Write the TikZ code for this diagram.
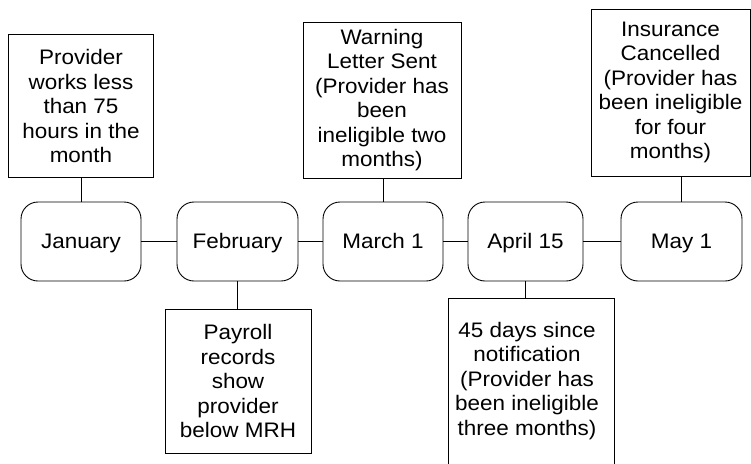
\documentclass[tikz,border=0pt]{standalone}
\usepackage{fontspec}
\setmainfont[FakeStretch=1.07]{Liberation Sans}
\begin{document}
\begin{tikzpicture}[x=1pt,y=-1pt,
  txt/.style={font=\fontsize{21}{24.5}\selectfont, align=center, inner sep=0pt},
  notebox/.style={txt, draw, line width=0.9pt},
  monthbox/.style={txt, draw, line width=0.9pt, rounded corners=17pt, minimum height=79pt, text height=14.5pt, text depth=0pt},
  link/.style={line width=0.8pt}
]
\useasboundingbox (0,0) rectangle (751,463);
\clip (0,0) rectangle (751,463);

% month nodes
\node[monthbox, minimum width=120pt] (jan) at (81,241.5) {January};
\node[monthbox, minimum width=121pt] (feb) at (237.5,241.5) {February};
\node[monthbox, minimum width=120pt] (mar) at (383,241.5) {March 1};
\node[monthbox, minimum width=115pt] (apr) at (525.5,241.5) {April 15};
\node[monthbox, minimum width=121pt] (may) at (681.5,241.5) {May 1};

% notes above
\node[notebox, minimum width=145pt, minimum height=143pt] (b1) at (81,106)
  {Provider\\works less\\than 75\\hours in the\\month};
\node[notebox, minimum width=158pt, minimum height=156pt] (b2) at (382,100)
  {Warning\\Letter Sent\\(Provider has\\been\\ineligible two\\months)};
\node[notebox, minimum width=159pt, minimum height=167pt] (b3) at (670.5,92.5)
  {Insurance\\Cancelled\\(Provider has\\been ineligible\\for four\\months)};

% notes below
\node[notebox, minimum width=146pt, minimum height=144pt] (b4) at (238,381)
  {Payroll\\records\\show\\provider\\below MRH};
\node[draw, line width=0.9pt, minimum width=166pt, minimum height=180pt, inner sep=0pt] (b5) at (531,388) {};
\node[txt] (t5) at (527,381)
  {45 days since\\notification\\(Provider has\\been ineligible\\three months)};

% timeline links
\draw[link] (jan) -- (feb);
\draw[link] (feb) -- (mar);
\draw[link] (mar) -- (apr);
\draw[line width=1.4pt] (apr) -- (may);

% vertical links
\draw[link] (jan.north) -- (jan.north |- b1.south);
\draw[link] (mar.north) -- (mar.north |- b2.south);
\draw[link] (may.north) -- (may.north |- b3.south);
\draw[link] (feb.south) -- (feb.south |- b4.north);
\draw[link] (apr.south) -- (apr.south |- b5.north);
\end{tikzpicture}
\end{document}
